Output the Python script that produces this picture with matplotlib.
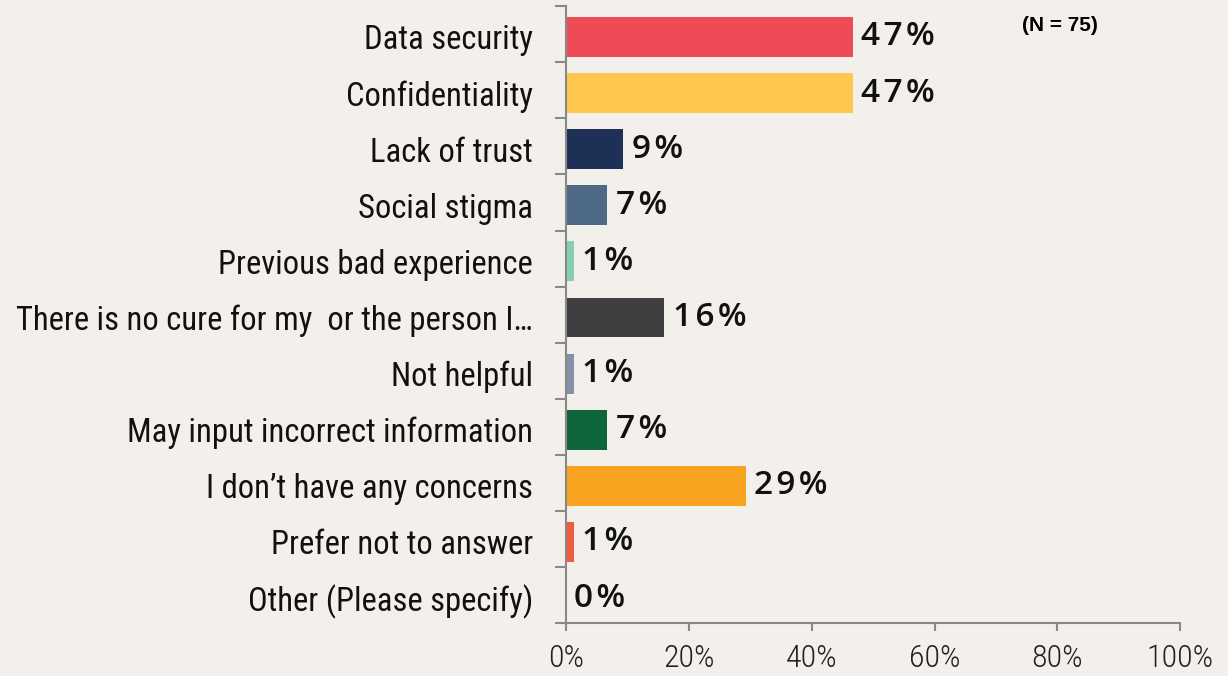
import matplotlib.pyplot as plt
import numpy as np

categories = [
    'Data security',
    'Confidentiality',
    'Lack of trust',
    'Social stigma',
    'Previous bad experience',
    'There is no cure for my  or the person I\u2026',
    'Not helpful',
    'May input incorrect information',
    'I don\u2019t have any concerns',
    'Prefer not to answer',
    'Other (Please specify)',
]
values = [46.7, 46.7, 9.3, 6.7, 1.3, 16.0, 1.3, 6.7, 29.3, 1.3, 0.0]
colors = ['#EF4B57', '#FFC84D', '#1F3057', '#4D6985', '#86CFB4', '#3F3F3F',
          '#8690A8', '#0F653A', '#F8A31F', '#F05A3D', '#F05A3D']
xticks = [0, 20, 40, 60, 80, 100]

bg = '#F3EFEB'
label_font = ['Roboto Condensed', 'Liberation Sans Narrow', 'Roboto', 'DejaVu Sans']

fig = plt.figure(figsize=(12.28, 6.76), dpi=100, facecolor=bg)
ax = fig.add_axes([0.461, 0.078, 0.5, 0.913], facecolor=bg)

y = np.arange(len(categories))
ax.barh(y, values, height=0.71, color=colors)
ax.set_ylim(len(categories) - 0.55, -0.55)
ax.set_xlim(0, 100)

# value labels, a little letter-spaced like the original
for yi, v in zip(y, values):
    txt = '\u200a'.join(f'{v:.0f}%')
    ax.annotate(txt, (v, yi), xytext=(6, 0), textcoords='offset points',
                va='center', ha='left', fontsize=24, fontweight='semibold',
                family=['Open Sans', 'DejaVu Sans'], color='#111111')

ax.set_yticks(y)
ax.set_yticklabels(categories, fontsize=23.5, family=label_font, color='#111111',
                   va='center_baseline')
ax.set_yticks(np.arange(len(categories) + 1) - 0.55, minor=True)
ax.tick_params(axis='y', which='major', length=0, pad=24)
ax.tick_params(axis='y', which='minor', length=8, color='#888888', width=1.5)

ax.set_xticks(xticks)
ax.set_xticklabels([f'{t}%' for t in xticks], fontsize=23, family=label_font,
                   fontweight='light', color='#222222')
ax.tick_params(axis='x', length=6, color='#888888', width=1.5, pad=9)

for side in ['top', 'right']:
    ax.spines[side].set_visible(False)
for side in ['left', 'bottom']:
    ax.spines[side].set_color('#888888')
    ax.spines[side].set_linewidth(1.5)

fig.text(0.863, 0.963, '(N = 75)', fontsize=15, fontweight='bold',
         family=['Liberation Sans', 'DejaVu Sans'], ha='center', va='center')

fig.savefig('out.png', dpi=100, facecolor=bg)
